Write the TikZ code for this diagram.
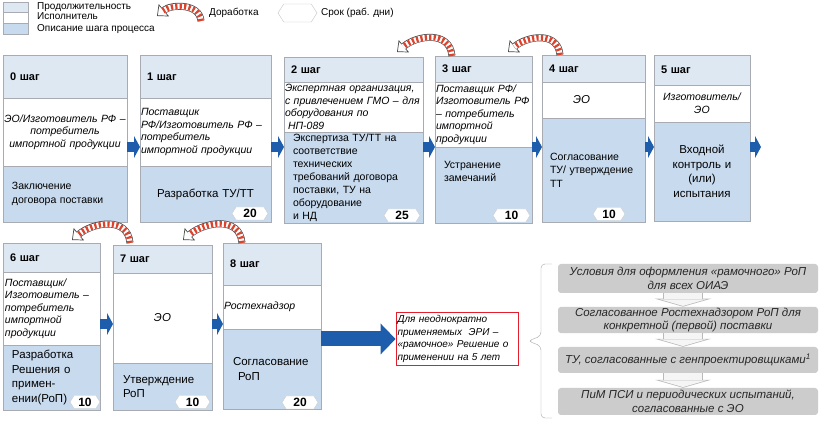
\documentclass[tikz,border=0pt]{standalone}
\usepackage{fontspec}
\setmainfont{Liberation Sans}
\usepackage{xcolor}
\usepackage{tikz}
\usetikzlibrary{arrows.meta,positioning,shapes.symbols}
\definecolor{hdblue}{RGB}{222,232,243}
\definecolor{dsblue}{RGB}{200,218,238}
\definecolor{bord}{RGB}{168,172,178}
\definecolor{arrblue}{RGB}{30,92,172}
\definecolor{rwred}{RGB}{222,66,44}
\definecolor{rwline}{RGB}{72,72,72}
\definecolor{boxred}{RGB}{228,30,42}

\begin{document}
\begin{tikzpicture}[x=1pt,y=1pt,
  sec/.style={draw=bord,inner ysep=0pt,outer sep=0pt},
  hd/.style={sec,fill=hdblue,anchor=north west,align=left,inner xsep=7pt,font=\bfseries\fontsize{11}{13}\selectfont},
  ex/.style={sec,fill=white,below=0pt of #1,font=\itshape\fontsize{10.5}{12.5}\selectfont},
  ds/.style={sec,fill=dsblue,below=0pt of #1,font=\fontsize{10.5}{13.5}\selectfont},
  dl/.style={ds=#1,font=\fontsize{11.5}{14.5}\selectfont},
  dn/.style={signal,signal to=east and west,signal pointer angle=115,draw=gray!40,fill=white,inner sep=0pt,minimum height=13pt,font=\bfseries\fontsize{12}{12}\selectfont},
  lg/.style={anchor=west,inner sep=0pt,font=\fontsize{10}{12}\selectfont},
  blk/.style={draw=arrblue,line width=10pt,-{Triangle[length=6pt,width=22pt,line width=0pt]}},
  rwc/.style={out=95,in=40},
  rwo/.style={draw=rwline,line width=7pt,-{Triangle[length=9pt,width=16pt,line width=0.7pt,fill=white]}},
  rwi/.style={draw=white,line width=5.6pt,shorten >=8pt},
  rwd/.style={draw=rwred,line width=5.6pt,dash pattern=on 2.2pt off 2.2pt,shorten >=8pt},
  gb/.style={fill=gray!40,rounded corners=3pt,minimum width=260pt,inner sep=1pt,align=center,text=black!85,font=\itshape\fontsize{11.5}{13.5}\selectfont},
  hol/.style={draw=gray!55,line width=40pt,-{Triangle[length=8pt,width=56pt,line width=0pt]}},
  holi/.style={draw=gray!8,line width=38.6pt,shorten >=0.73pt,-{Triangle[length=6.57pt,width=46pt,line width=0pt]}}]
\fill[white] (0,0) rectangle (822,422);
\useasboundingbox (0,0) rectangle (822,422);

\node[sec,fill=hdblue,anchor=north west,minimum width=25pt,minimum height=10pt] (l1) at (3,420) {};
\node[sec,fill=white,minimum width=25pt,minimum height=11pt,below=0pt of l1] (l2) {};
\node[sec,fill=dsblue,minimum width=25pt,minimum height=11pt,below=0pt of l2] (l3) {};
\node[lg] (t1) at (37,414.7) {Продолжительность};
\node[lg] (t2) at (37,406) {Исполнитель};
\node[lg] (t3) at (37,392.7) {Описание шага процесса};
\coordinate (la) at (201,401); \coordinate (lb) at (157,406);
\node[lg] (t4) at (209,409) {Доработка};
\node[dn,draw=gray!45,minimum width=39pt,minimum height=18pt] (t5) at (297.5,409) {};
\node[lg] (t6) at (321,409) {Срок (раб. дни)};

\node[hd,text width=110pt,minimum height=43pt] (h0) at (3,367) {0 шаг};
\node[ex=h0,text width=122pt,inner xsep=1pt,minimum height=68pt,align=center] (e0) {ЭО/Изготовитель РФ –\\потребитель\\импортной продукции};
\node[ds=e0,text width=106pt,inner xsep=9pt,minimum height=56pt,align=left] (d0) {Заключение\\договора поставки};

\node[hd,text width=117pt,minimum height=43pt] (h1) at (140,367) {1 шаг};
\node[ex=h1,text width=129pt,inner xsep=1pt,minimum height=68pt,align=left] (e1) {Поставщик\\РФ/Изготовитель РФ –\\потребитель\\импортной продукции};
\node[dl=e1,text width=129pt,inner xsep=1pt,minimum height=56pt,align=center] (d1) {Разработка ТУ/ТТ};
\node[dn,minimum width=36pt] (n1) at ([xshift=-21pt,yshift=8.5pt]d1.south east) {20};

\node[hd,text width=125pt,minimum height=25pt] (h2) at (284,365) {2 шаг};
\node[ex=h2,text width=137pt,inner xsep=1pt,minimum height=50pt,align=left] (e2) {Экспертная организация,\\с~привлечением~ГМО~–~для\\оборудования по\\\hspace*{3pt}НП-089};
\node[ds=e2,text width=121pt,inner xsep=9pt,minimum height=91pt,align=left,font=\fontsize{10.5}{13}\selectfont] (d2) {Экспертиза ТУ/ТТ на\\соответствие\\технических\\требований договора\\поставки, ТУ на\\оборудование\\и НД};
\node[dn,minimum width=36pt] (n2) at ([xshift=-21pt,yshift=7.5pt]d2.south east) {25};

\node[hd,text width=83pt,minimum height=26pt] (h3) at (435,366) {3 шаг};
\node[ex=h3,text width=95pt,inner xsep=1pt,minimum height=65pt,align=left] (e3) {Поставщик РФ/\\Изготовитель РФ\\– потребитель\\импортной\\продукции};
\node[ds=e3,text width=79pt,inner xsep=9pt,minimum height=76pt,align=left] (d3) {Устранение\\замечаний\\\mbox{}\\\mbox{}};
\node[dn,minimum width=37pt] (n3) at ([xshift=-20.5pt,yshift=7.5pt]d3.south east) {10};

\node[hd,text width=89pt,minimum height=27pt] (h4) at (542,367) {4 шаг};
\node[ex=h4,text width=41pt,inner xsep=31pt,minimum height=36pt,align=left,font=\itshape\fontsize{11.5}{13}\selectfont] (e4) {ЭО};
\node[ds=e4,text width=87pt,inner xsep=8pt,minimum height=104pt,align=left] (d4) {Согласование\\ТУ/~утверждение\\ТТ};
\node[dn,minimum width=32pt] (n4) at ([xshift=-36pt,yshift=8pt]d4.south east) {10};

\node[hd,text width=82pt,minimum height=30pt] (h5) at (654,367) {5 шаг};
\node[ex=h5,text width=94pt,inner xsep=1pt,minimum height=37pt,align=center] (e5) {Изготовитель/\\ЭО};
\node[dl=e5,text width=94pt,inner xsep=1pt,minimum height=99pt,align=center] (d5) {Входной\\контроль и\\(или)\\испытания};

\node[hd,text width=83pt,minimum height=29pt] (h6) at (3,179) {6 шаг};
\node[ex=h6,text width=93pt,inner xsep=2pt,minimum height=73pt,align=left] (e6) {Поставщик/\\Изготовитель –\\потребитель\\импортной\\продукции};
\node[dl=e6,text width=79pt,inner xsep=9pt,minimum height=65pt,align=left] (d6) {Разработка\\Решения о\\примен-\\ении(РоП)};
\node[dn,minimum width=30pt] (n6) at ([xshift=-15pt,yshift=8pt]d6.south east) {10};

\node[hd,text width=85pt,minimum height=28pt] (h7) at (113,177) {7 шаг};
\node[ex=h7,text width=97pt,inner xsep=1pt,minimum height=90pt,align=center,font=\itshape\fontsize{11.5}{13}\selectfont] (e7) {ЭО};
\node[dl=e7,text width=79pt,inner xsep=10pt,minimum height=47pt,align=left] (d7) {Утверждение\\РоП};
\node[dn,minimum width=35pt] (n7) at ([xshift=-19.5pt,yshift=8pt]d7.south east) {10};

\node[hd,text width=84pt,minimum height=42pt] (h8) at (223,179) {8 шаг};
\node[ex=h8,text width=96pt,inner xsep=1pt,minimum height=44pt,align=left] (e8) {Ростехнадзор};
\node[dl=e8,text width=78pt,inner xsep=10pt,minimum height=80pt,align=left] (d8) {Согласование\\\hspace*{5pt}РоП};
\node[dn,minimum width=36pt] (n8) at ([xshift=-21pt,yshift=6.5pt]d8.south east) {20};

\coordinate (ya) at (0,275); \coordinate (yb) at (0,98); \coordinate (o5) at (761,275);
\foreach \a/\b in {e0/e1,e1/e2,e2/e3,e3/e4,e4/e5}
  \draw[blk] (\a.east |- ya) -- (\b.west |- ya);
\foreach \a/\b in {e6/e7,e7/e8}
  \draw[blk] (\a.east |- yb) -- (\b.west |- yb);
\draw[blk] (e5.east |- ya) -- (o5);

\node[draw=boxred,line width=0.9pt,fill=white,minimum width=122pt,minimum height=52pt,text width=119pt,inner xsep=1.5pt,align=left,font=\itshape\fontsize{10}{12.5}\selectfont] (rb) at (457,83) {Для неоднократно\\применяемых~ ЭРИ –\\«рамочное»~Решение~о\\применении на 5 лет};
\draw[draw=arrblue,line width=15pt,-{Triangle[length=15pt,width=31pt,line width=0pt]}] (d8.east |- rb) -- (rb.west);

\draw[gray!70,rounded corners=4pt] (552,158) -- (541,158) -- (541,86) -- (528,81) -- (541,76) -- (541,4) -- (552,4);
\node[gb,minimum height=29pt] (g1) at (688,143.5) {Условия для оформления «рамочного» РоП\\для всех ОИАЭ};
\node[gb,minimum height=26pt] (g2) at (688,102) {Согласованное Ростехнадзором РоП для\\конкретной (первой) поставки};
\node[gb,minimum height=26pt] (g3) at (688,62) {ТУ, согласованные с генпроектировщиками\textsuperscript{1}};
\node[gb,minimum height=27pt] (g4) at (688,20.5) {ПиМ ПСИ и периодических испытаний,\\согласованные с ЭО};
\foreach \a/\b in {g1/g2,g2/g3,g3/g4}{
  \draw[hol] ([xshift=-5pt]\a.south) -- ([xshift=-5pt]\b.north);
  \draw[holi] ([xshift=-5pt]\a.south) -- ([xshift=-5pt]\b.north);}

\coordinate (w3) at ([xshift=17pt]h3.north west);
\coordinate (v2) at ([xshift=-26pt,yshift=5pt]h2.north east);
\coordinate (w4) at ([xshift=18pt]h4.north west);
\coordinate (v3) at ([xshift=-24pt,yshift=4pt]h3.north east);
\coordinate (w7) at ([xshift=17pt,yshift=2pt]h7.north west);
\coordinate (v6) at ([xshift=-28pt,yshift=3pt]h6.north east);
\coordinate (w8) at ([xshift=19pt]h8.north west);
\coordinate (v7) at ([xshift=-29pt,yshift=5pt]h7.north east);
\foreach \a/\b/\l in {la/lb/1.05,w3/v2/1.2,w4/v3/1.2,w7/v6/1.2,w8/v7/1.2}{
  \draw[rwo] (\a) to[rwc,looseness=\l] (\b);
  \draw[rwi] (\a) to[rwc,looseness=\l] (\b);
  \draw[rwd] (\a) to[rwc,looseness=\l] (\b);}
\end{tikzpicture}
\end{document}
